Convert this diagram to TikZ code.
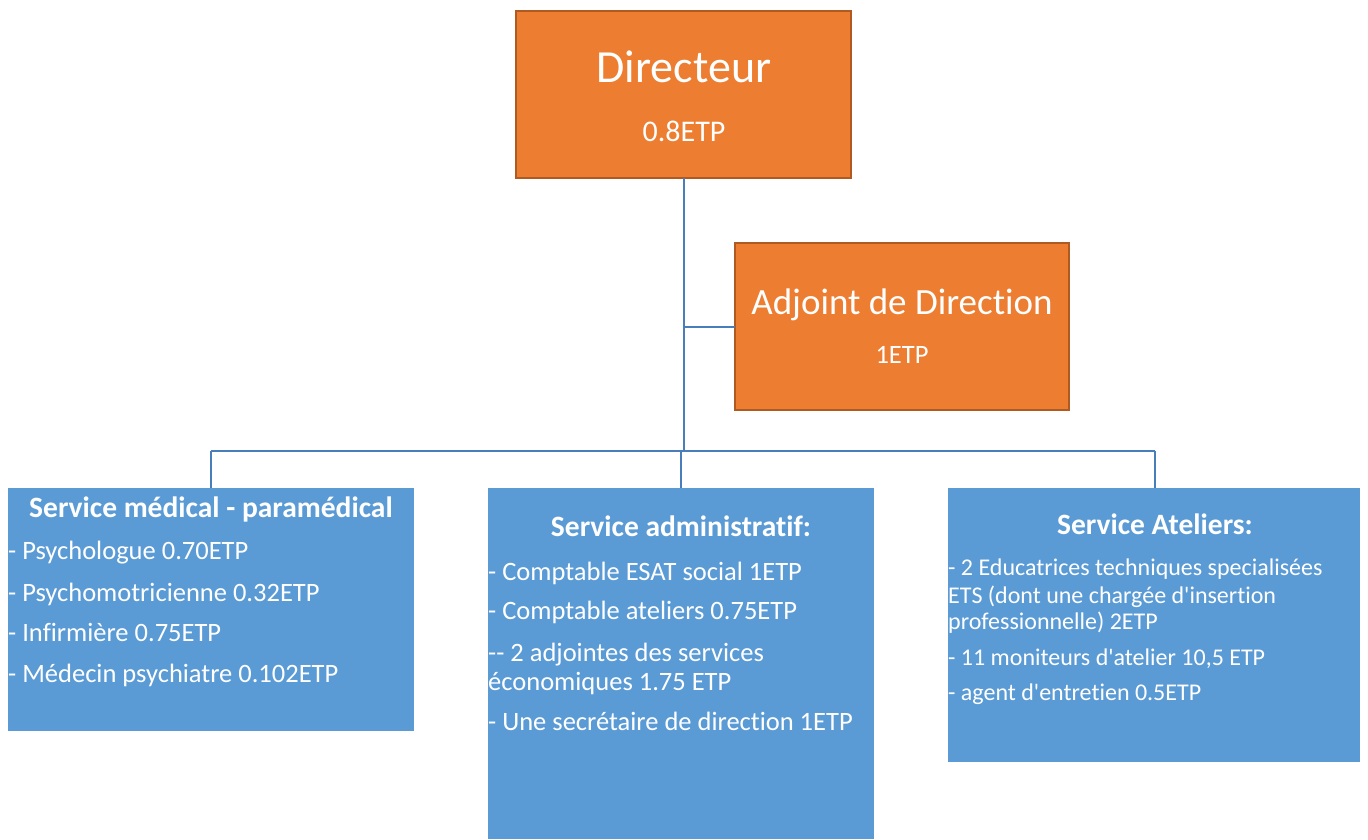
\documentclass[tikz,border=0pt]{standalone}
\usepackage{fontspec}
\setmainfont{Carlito}[Ligatures={NoCommon,TeXOff}]
\definecolor{orgfill}{HTML}{ED7D31}
\definecolor{orgline}{HTML}{AE5A21}
\definecolor{svcfill}{HTML}{5B9BD5}
\definecolor{wire}{HTML}{4A7EBB}
\tikzset{
  x=1pt, y=-1pt,
  headbox/.style={draw=orgline, line width=2pt, fill=orgfill},
  svcbox/.style={fill=svcfill},
  wiring/.style={draw=wire, line width=2.8pt},
  txt/.style={text=white, inner sep=0pt, anchor=base},
  item/.style={text=white, inner sep=0pt, anchor=base west},
}
\newcommand{\fs}[1]{\fontsize{#1}{#1}\selectfont}
\begin{document}
\begin{tikzpicture}
\useasboundingbox (0,0) rectangle (1368,839);

% boxes
\path[headbox] (516,11) rectangle (851,178);
\coordinate (dirS) at (684,178);
\path[headbox] (735,243) rectangle (1069,410);
\coordinate (adjW) at (735,327);

\path[svcbox] (8,488) rectangle (414,731);
\path[svcbox] (488,488) rectangle (874,839);
\path[svcbox] (948,488) rectangle (1360,762);

% connector points
\coordinate (trunkA) at (684,327);
\coordinate (trunkB) at (684,451);
\coordinate (busL) at (211,451);
\coordinate (busM) at (681,451);
\coordinate (busR) at (1155,451);
\coordinate (medN) at (211,488);
\coordinate (admN) at (681,488);
\coordinate (ateN) at (1155,488);

\draw[wiring] (dirS) -- (trunkB);
\draw[wiring] (trunkA) -- (adjW);
\draw[wiring] (busL) -- (busR);
\draw[wiring] (busL) -- (medN);
\draw[wiring] (busM) -- (admN);
\draw[wiring] (busR) -- (ateN);

% head texts
\node[txt] (dirT) at (684,82) {\fs{46}Directeur};
\node[txt] (dirE) at (684,141) {\fs{30}0.8ETP};
\node[txt] (adjT) at (902,314) {\fs{37}Adjoint de Direction};
\node[txt] (adjE) at (902,363) {\fs{26.5}1ETP};

% service médical
\node[txt] (medT) at (211,517) {\fs{29.5}\bfseries Service médical - paramédical};
\node[item] (med1) at (8,559) {\fs{26.5}- Psychologue 0.70ETP};
\node[item] (med2) at (8,601) {\fs{26.5}- Psychomotricienne 0.32ETP};
\node[item] (med3) at (8,641) {\fs{26.5}- Infirmière 0.75ETP};
\node[item] (med4) at (8,682) {\fs{26.5}- Médecin psychiatre 0.102ETP};

% service administratif
\node[txt] (admT) at (681,536) {\fs{29.5}\bfseries Service administratif:};
\node[item] (adm1) at (488,580) {\fs{26.5}- Comptable ESAT social 1ETP};
\node[item] (adm2) at (488,619) {\fs{26.5}- Comptable ateliers 0.75ETP};
\node[item] (adm3) at (488,661) {\fs{26.5}-- 2 adjointes des services};
\node[item] (adm4) at (488,690) {\fs{26.5}économiques 1.75 ETP};
\node[item] (adm5) at (488,730) {\fs{26.5}- Une secrétaire de direction 1ETP};

% service ateliers
\node[txt] (ateT) at (1155,534) {\fs{29.5}\bfseries Service Ateliers:};
\node[item] (ate1) at (948,575) {\fs{24}- 2 Educatrices techniques specialisées};
\node[item] (ate2) at (948,603) {\fs{24}ETS (dont une chargée d'insertion};
\node[item] (ate3) at (948,629) {\fs{24}professionnelle) 2ETP};
\node[item] (ate4) at (948,665) {\fs{24}- 11 moniteurs d'atelier 10,5 ETP};
\node[item] (ate5) at (948,700) {\fs{24}- agent d'entretien 0.5ETP};
\end{tikzpicture}
\end{document}
